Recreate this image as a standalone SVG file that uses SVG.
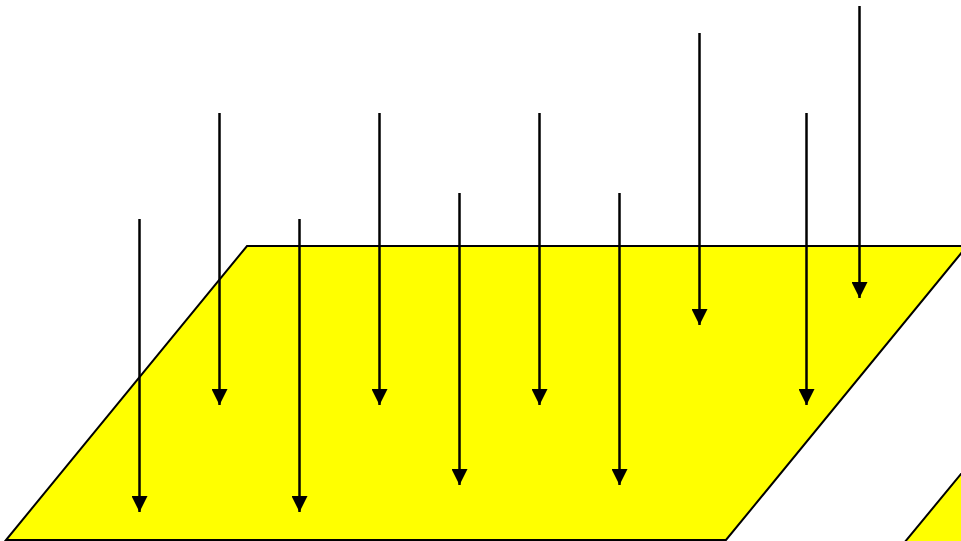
<svg xmlns="http://www.w3.org/2000/svg" width="961" height="541" viewBox="0 0 961 541">
<style>
.plane{fill:#ffff00;stroke:#000;stroke-width:2}
.arr{stroke:#000;stroke-width:2.5;fill:none}
.head{fill:#000}
</style>
<defs>
<marker id="ah" markerUnits="userSpaceOnUse" markerWidth="16" markerHeight="16" refX="16" refY="8" orient="auto">
<path d="M0,0 L16,8 L0,16 Z" class="head"/>
</marker>
</defs>
<rect width="961" height="541" fill="#fff"/>
<g id="plane1"><polygon class="plane" points="247,246 967,246 726,540 6,540"/></g>
<g id="plane2"><polygon class="plane" points="961,474 1020,474 980,560 890,560"/></g>
<g id="connectors">
<line class="arr" x1="139.5" y1="219" x2="139.5" y2="512" marker-end="url(#ah)"/>
<line class="arr" x1="219.5" y1="113" x2="219.5" y2="405" marker-end="url(#ah)"/>
<line class="arr" x1="299.5" y1="219" x2="299.5" y2="512" marker-end="url(#ah)"/>
<line class="arr" x1="379.5" y1="113" x2="379.5" y2="405" marker-end="url(#ah)"/>
<line class="arr" x1="459.5" y1="193" x2="459.5" y2="485" marker-end="url(#ah)"/>
<line class="arr" x1="539.5" y1="113" x2="539.5" y2="405" marker-end="url(#ah)"/>
<line class="arr" x1="619.5" y1="193" x2="619.5" y2="485" marker-end="url(#ah)"/>
<line class="arr" x1="699.5" y1="33" x2="699.5" y2="325" marker-end="url(#ah)"/>
<line class="arr" x1="806.5" y1="113" x2="806.5" y2="405" marker-end="url(#ah)"/>
<line class="arr" x1="859.5" y1="6" x2="859.5" y2="298" marker-end="url(#ah)"/>
</g>
</svg>
